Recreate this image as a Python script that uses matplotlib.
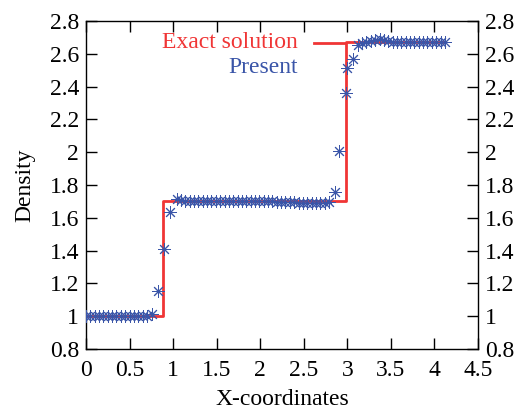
import matplotlib.pyplot as plt

plt.rcParams['font.family'] = ['Liberation Serif', 'DejaVu Serif']

# Data
x_exact = [0.0, 0.885, 0.885, 2.98, 2.98, 4.12]
rho_exact = [1.0, 1.0, 1.70, 1.70, 2.672, 2.672]

x_present = [0.00, 0.05, 0.10, 0.15, 0.20, 0.25, 0.30, 0.35, 0.40, 0.45,
             0.50, 0.55, 0.60, 0.65, 0.70, 0.755,
             0.83, 0.90, 0.965, 1.04,
             1.09, 1.14, 1.19, 1.24, 1.29, 1.34, 1.39, 1.44, 1.49, 1.54,
             1.59, 1.64, 1.69, 1.74, 1.79, 1.84, 1.89, 1.94, 1.99, 2.04,
             2.09, 2.14, 2.19, 2.24, 2.29, 2.34, 2.39, 2.44, 2.49, 2.54,
             2.59, 2.64, 2.69, 2.74, 2.79,
             2.855, 2.91, 2.99, 3.00, 3.06, 3.12,
             3.17, 3.22, 3.27, 3.32, 3.37, 3.42, 3.47, 3.52, 3.57, 3.62,
             3.67, 3.72, 3.77, 3.82, 3.87, 3.92, 3.97, 4.02, 4.07, 4.12]
rho_present = [1.00, 1.00, 1.00, 1.00, 1.00, 1.00, 1.00, 1.00, 1.00, 1.00,
               1.00, 1.00, 1.00, 1.00, 1.00, 1.015,
               1.155, 1.41, 1.637, 1.715,
               1.71, 1.705, 1.70, 1.70, 1.70, 1.70, 1.70, 1.70, 1.70, 1.70,
               1.70, 1.70, 1.70, 1.70, 1.70, 1.70, 1.70, 1.70, 1.70, 1.70,
               1.70, 1.70, 1.695, 1.695, 1.695, 1.695, 1.695, 1.69, 1.69, 1.69,
               1.69, 1.69, 1.69, 1.69, 1.695,
               1.76, 2.007, 2.36, 2.515, 2.57, 2.655,
               2.665, 2.675, 2.68, 2.685, 2.69, 2.685, 2.68, 2.675, 2.675, 2.675,
               2.675, 2.675, 2.675, 2.675, 2.675, 2.675, 2.675, 2.675, 2.675, 2.675]

red = '#f03535'
blue = '#3a55a8'

fig = plt.figure(figsize=(5.2, 4.17), dpi=100)
ax = fig.add_axes([0.1654, 0.163, 0.7538, 0.7866])

ax.plot(x_exact, rho_exact, color=red, lw=2, zorder=2)
ax.plot(x_present, rho_present, ls='none', marker=(8, 2, 0), ms=9, mew=0.7,
        color=blue, zorder=3)

ax.set_xlim(0, 4.5)
ax.set_ylim(0.8, 2.8)
ax.set_xticks([0, 0.5, 1, 1.5, 2, 2.5, 3, 3.5, 4, 4.5])
ax.set_xticklabels(['0', '0.5', '1', '1.5', '2', '2.5', '3', '3.5', '4', '4.5'])
yt = [0.8, 1, 1.2, 1.4, 1.6, 1.8, 2, 2.2, 2.4, 2.6, 2.8]
ax.set_yticks(yt)
ax.set_yticklabels(['0.8', '1', '1.2', '1.4', '1.6', '1.8', '2', '2.2', '2.4', '2.6', '2.8'])
ax.tick_params(direction='in', length=8, width=1, labelsize=17,
               top=True, right=True, labelright=True)
ax.tick_params(axis='x', pad=8)
ax.tick_params(axis='y', pad=5)
for s in ax.spines.values():
    s.set_linewidth(1)

ax.set_xlabel('X-coordinates', fontsize=17, labelpad=6)
ax.set_ylabel('Density', fontsize=17, labelpad=10)

# key
ax.text(0.541, 0.934, 'Exact solution', transform=ax.transAxes, ha='right',
        va='center', color=red, fontsize=17)
ax.text(0.541, 0.857, 'Present', transform=ax.transAxes, ha='right',
        va='center', color=blue, fontsize=17)
ax.plot([0.582, 0.661], [0.933, 0.933], transform=ax.transAxes, color=red, lw=2)

fig.savefig('out.png', dpi=100)
